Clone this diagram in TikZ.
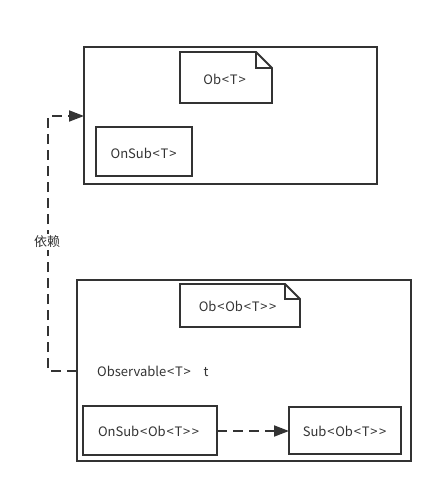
\documentclass[tikz,border=0pt]{standalone}
\usepackage{fontspec}
\setmainfont{Noto Sans CJK SC}
\usetikzlibrary{arrows.meta}
\definecolor{ink}{HTML}{333333}
\newcommand{\lt}{\kern0.8pt<\kern0.8pt}
\newcommand{\gt}{\kern0.8pt>\kern0.8pt}
\begin{document}
\begin{tikzpicture}[x=1pt,y=-1pt,
  box/.style={draw=ink,line width=1.8pt},
  lbl/.style={text=ink,font=\fontsize{13}{15}\selectfont,inner sep=0pt},
  dep/.style={draw=ink,line width=1.8pt,dash pattern=on 10pt off 6pt,-{Triangle[length=15pt,width=11pt]}}]
\useasboundingbox (0,0) rectangle (443,494);
% top container
\draw[box] (84,47) rectangle (377,184);
\coordinate (topin) at (84,116);
% note Ob<T>
\draw[box] (180,52) -- (256,52) -- (272,68) -- (272,103) -- (180,103) -- cycle;
\draw[box] (256,52) -- (256,68) -- (272,68);
\node[lbl] (obt) at (225,79) {Ob\lt T\gt};
% OnSub<T>
\draw[box] (96,127) rectangle (192,176);
\node[lbl] (onsubt) at (144,153) {OnSub\lt T\gt};
% bottom container
\draw[box] (77,280) rectangle (411,461);
\coordinate (botout) at (77,371);
% note Ob<Ob<T>>
\draw[box] (180,284) -- (285,284) -- (300,299) -- (300,327) -- (180,327) -- cycle;
\draw[box] (285,284) -- (285,299) -- (300,299);
\node[lbl] (obobt) at (238,306) {Ob\lt Ob\lt T\gt\gt};
\node[lbl,anchor=west] (obs) at (97,371) {Observable\lt T\gt\hspace{12pt}t};
% OnSub<Ob<T>>
\draw[box] (83,406) rectangle (217,455);
\node[lbl] (onsub) at (149,431) {OnSub\lt Ob\lt T\gt\gt};
\coordinate (onsubE) at (217,431);
% Sub<Ob<T>>
\draw[box] (289,407) rectangle (401,454);
\node[lbl] (sub) at (345,431) {Sub\lt Ob\lt T\gt\gt};
\coordinate (subW) at (289,431);
% dependencies
\draw[dep] (botout) -- (48,371) -- (48,116) -- (topin);
\node[lbl,fill=white,inner sep=2pt] (dep) at (47,242) {依赖};
\draw[dep] (onsubE) -- (subW);
\end{tikzpicture}
\end{document}
